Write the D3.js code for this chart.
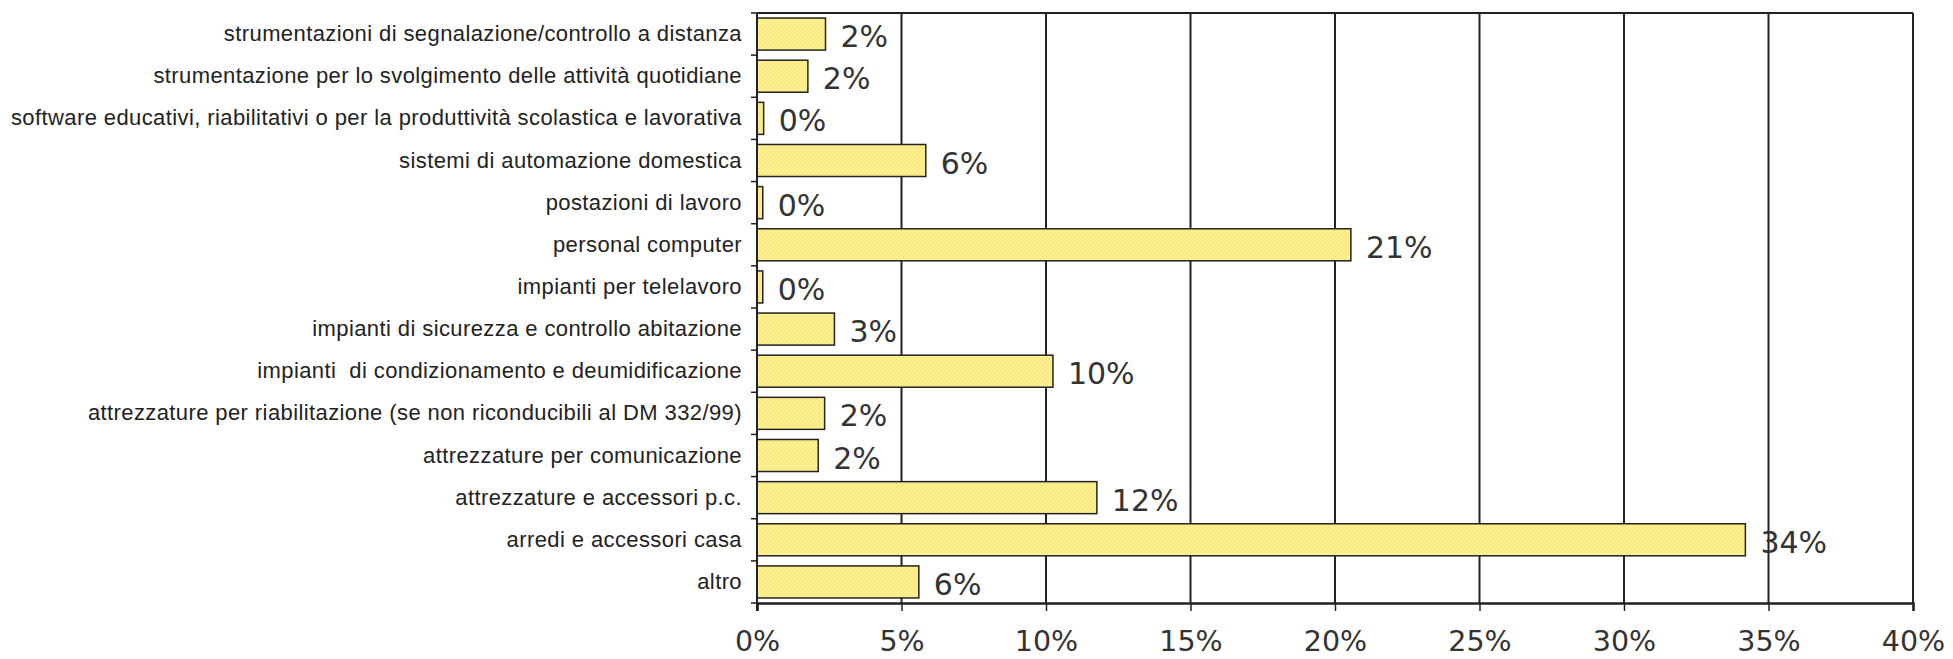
<!DOCTYPE html>
<html>
<head>
<meta charset="utf-8">
<script src="https://cdn.jsdelivr.net/npm/d3@7"></script>
<style>
    body { margin: 0; background: #fff; }
    svg { display: block; }
</style>
</head>
<body>
<div id="chart"></div>
<script>
// categories top to bottom
const categories = [
    'strumentazioni di segnalazione/controllo a distanza',
    'strumentazione per lo svolgimento delle attività quotidiane',
    'software educativi, riabilitativi o per la produttività scolastica e lavorativa',
    'sistemi di automazione domestica',
    'postazioni di lavoro',
    'personal computer',
    'impianti per telelavoro',
    'impianti di sicurezza e controllo abitazione',
    'impianti  di condizionamento e deumidificazione',
    'attrezzature per riabilitazione (se non riconducibili al DM 332/99)',
    'attrezzature per comunicazione',
    'attrezzature e accessori p.c.',
    'arredi e accessori casa',
    'altro'
];
const values = [0.0237, 0.0176, 0.0023, 0.0584, 0.0020, 0.2055, 0.0020, 0.0268, 0.1024, 0.0234, 0.0212, 0.1176, 0.3420, 0.0560];
const xTicks = [0, 0.05, 0.10, 0.15, 0.20, 0.25, 0.30, 0.35, 0.40];

const width = 1953, height = 659;
const margin = { top: 13, right: 40, bottom: 56, left: 757 };

const svg = d3.select('#chart').append('svg')
    .attr('width', width)
    .attr('height', height);

// yellow hatched fill like the original
const defs = svg.append('defs');
const pat = defs.append('pattern')
    .attr('id', 'hatch')
    .attr('patternUnits', 'userSpaceOnUse')
    .attr('width', 4).attr('height', 4);
pat.append('rect').attr('width', 4).attr('height', 4).attr('fill', '#fff296');
pat.append('path').attr('d', 'M0,4 L4,0 M-1,1 L1,-1 M3,5 L5,3')
    .attr('stroke', '#f7e06a').attr('stroke-width', 1);

const x = d3.scaleLinear()
    .domain([0, 0.40])
    .range([margin.left, 1913]);

const y = d3.scaleBand()
    .domain(categories)
    .range([margin.top, 603])
    .paddingInner(0.24)
    .paddingOuter(0.12);

const y0 = margin.top, y1 = 603;
const band = (y1 - y0) / categories.length;

// gridlines (vertical)
svg.append('g')
    .selectAll('line')
    .data(xTicks.slice(1))
    .join('line')
    .attr('x1', d => x(d)).attr('x2', d => x(d))
    .attr('y1', y0).attr('y2', y1)
    .attr('stroke', '#222')
    .attr('stroke-width', 2);

// top border
svg.append('line')
    .attr('x1', x(0)).attr('x2', x(0.40))
    .attr('y1', y0).attr('y2', y0)
    .attr('stroke', '#222').attr('stroke-width', 2);

// bars
svg.append('g')
    .selectAll('rect')
    .data(values)
    .join('rect')
    .attr('x', x(0))
    .attr('y', (d, i) => y(categories[i]))
    .attr('width', d => x(d) - x(0))
    .attr('height', y.bandwidth())
    .attr('fill', 'url(#hatch)')
    .attr('stroke', '#222')
    .attr('stroke-width', 1.5);

// value labels
const pct = d3.format('.0%');
svg.append('g')
    .selectAll('text')
    .data(values)
    .join('text')
    .attr('x', d => x(d) + 15)
    .attr('y', (d, i) => y(categories[i]) + y.bandwidth() / 2 + 13)
    .attr('font-family', 'DejaVu Sans, Verdana, sans-serif')
    .attr('font-size', 30)
    .attr('fill', '#333')
    .text(d => pct(d));

// x axis
const xAxis = svg.append('g')
    .attr('transform', `translate(0,${y1})`)
    .call(d3.axisBottom(x).tickValues(xTicks).tickFormat(d3.format('.0%')).tickSize(8).tickPadding(20));
xAxis.select('.domain').attr('stroke', '#222').attr('stroke-width', 2.5);
xAxis.selectAll('.tick line').attr('stroke', '#222').attr('stroke-width', 1.5);
xAxis.selectAll('text')
    .attr('font-family', 'DejaVu Sans, Verdana, sans-serif')
    .attr('font-size', 28.5)
    .attr('fill', '#333');

// y axis: line plus ticks at band edges
svg.append('line')
    .attr('x1', x(0)).attr('x2', x(0))
    .attr('y1', y0).attr('y2', y1 + 8)
    .attr('stroke', '#222').attr('stroke-width', 2);
svg.append('g')
    .selectAll('line')
    .data(d3.range(categories.length + 1))
    .join('line')
    .attr('x1', x(0) - 6).attr('x2', x(0))
    .attr('y1', i => y0 + i * band).attr('y2', i => y0 + i * band)
    .attr('stroke', '#222').attr('stroke-width', 1.5);

// category labels
svg.append('g')
    .selectAll('text')
    .data(categories)
    .join('text')
    .attr('x', x(0) - 15)
    .attr('y', d => y(d) + y.bandwidth() / 2 + 7)
    .attr('text-anchor', 'end')
    .attr('font-family', 'Liberation Sans, Arial, sans-serif')
    .attr('font-size', 22)
    .attr('letter-spacing', 0.4)
    .attr('fill', '#222')
    .attr('xml:space', 'preserve')
    .style('white-space', 'pre')
    .text(d => d);
</script>
</body>
</html>
